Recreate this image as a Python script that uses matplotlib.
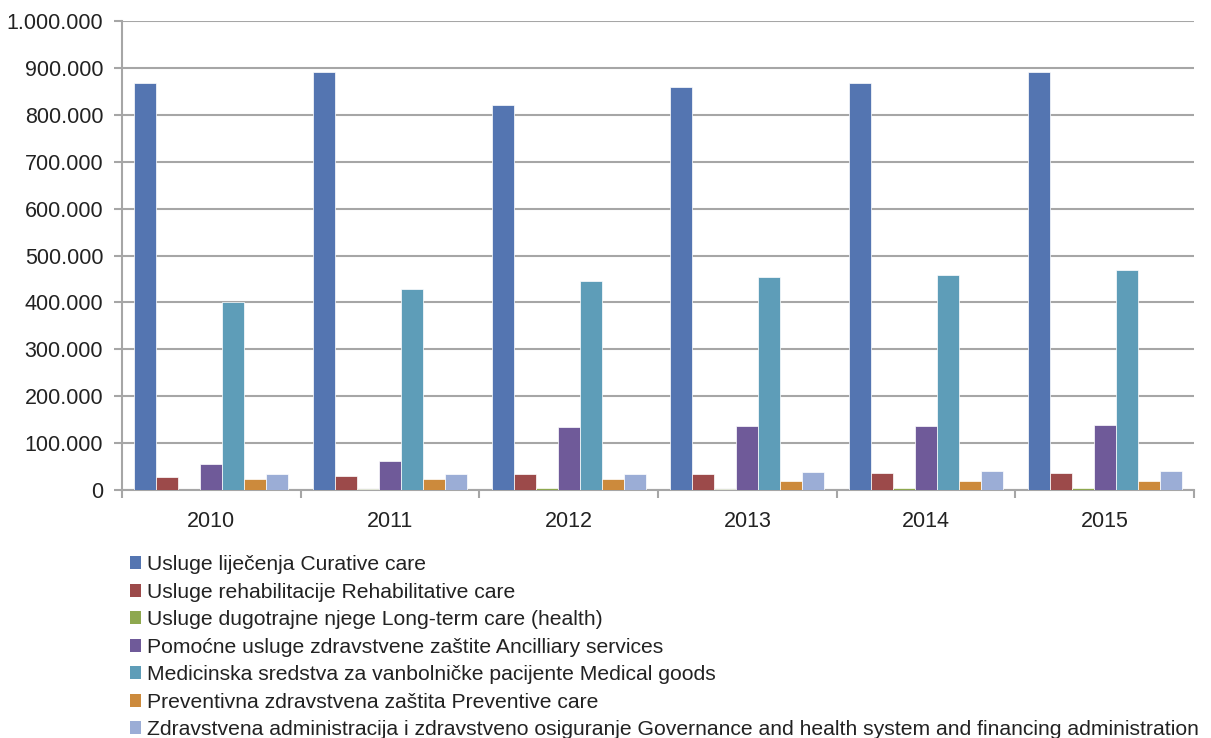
import matplotlib
matplotlib.use("Agg")
import matplotlib.pyplot as plt
import numpy as np
from matplotlib.ticker import FuncFormatter, FixedLocator
from matplotlib.patches import Patch

plt.rcParams['font.family'] = ['Liberation Sans', 'DejaVu Sans']

years = ['2010', '2011', '2012', '2013', '2014', '2015']
series_names = [
    'Usluge liječenja Curative care',
    'Usluge rehabilitacije Rehabilitative care',
    'Usluge dugotrajne njege Long-term care (health)',
    'Pomoćne usluge zdravstvene zaštite Ancilliary services',
    'Medicinska sredstva za vanbolničke pacijente Medical goods',
    'Preventivna zdravstvena zaštita Preventive care',
    'Zdravstvena administracija i zdravstveno osiguranje Governance and health system and financing administration',
]
curative = [868000, 891000, 821000, 859000, 868000, 891000]
rehab = [28000, 30000, 34000, 34000, 36000, 36000]
longterm = [0, 3000, 5000, 3000, 4000, 4000]
ancillary = [55000, 62000, 134000, 136000, 136000, 138000]
medical = [401000, 428000, 446000, 454000, 458000, 469000]
preventive = [23000, 24000, 24000, 19000, 19000, 19000]
governance = [35000, 34000, 35000, 38000, 40000, 41000]
series = [curative, rehab, longterm, ancillary, medical, preventive, governance]
colors = ['#5475B1', '#9C4A4A', '#8EA84F', '#6F5A99', '#5E9DB8', '#CC8A3C', '#9BADD6']

fig = plt.figure(figsize=(12.11, 7.38), dpi=100)
ax = fig.add_axes([0.1007, 0.336, 0.8853, 0.6355])

x = np.arange(len(years))
w = 0.123
n = len(series)
for i, (vals, c) in enumerate(zip(series, colors)):
    ax.bar(x + (i - (n - 1) / 2) * w, vals, width=w, color=c, edgecolor='white', linewidth=0.5, zorder=3)

ax.set_xlim(-0.5, len(years) - 0.5)
ax.set_ylim(0, 1000000)
ax.set_yticks(np.arange(0, 1000001, 100000))
ax.yaxis.set_major_formatter(FuncFormatter(lambda v, p: f"{int(v):,}".replace(',', '.')))
ax.grid(axis='y', color='#A6A6A6', linewidth=1.5, zorder=0)
ax.set_xticks(x)
ax.set_xticklabels(years)
ax.xaxis.set_minor_locator(FixedLocator(np.arange(-0.5, len(years), 1)))
ax.tick_params(axis='x', which='major', length=0, labelsize=15.5, pad=15, colors='#222222')
ax.tick_params(axis='x', which='minor', length=6, width=1.5, color='#A6A6A6')
ax.tick_params(axis='y', length=6, width=1.5, color='#A6A6A6', labelsize=15.5, labelcolor='#222222', pad=7.5)
for s in ['top', 'right']:
    ax.spines[s].set_visible(False)
for s in ['left', 'bottom']:
    ax.spines[s].set_color('#A6A6A6')
    ax.spines[s].set_linewidth(1.5)

handles = [Patch(facecolor=c, edgecolor='none', label=l) for c, l in zip(colors, series_names)]
fig.legend(handles=handles, loc='upper left', bbox_to_anchor=(0.107, 0.2475), frameon=False,
           fontsize=15.25, handlelength=0.55, handleheight=0.55, handletextpad=0.28,
           labelspacing=0.4, borderaxespad=0, borderpad=0, labelcolor='#222222')

fig.savefig('out.png', dpi=100)
